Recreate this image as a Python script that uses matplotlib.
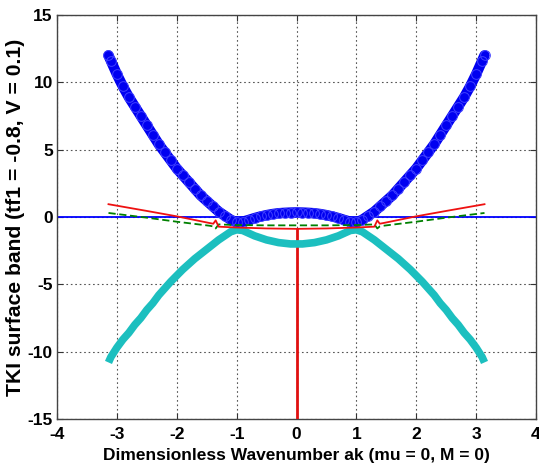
import matplotlib
matplotlib.use("Agg")
import matplotlib.pyplot as plt

# ---- data (left half, mirrored for the right half) ----
k_half = [-3.14, -3.1, -3.0, -2.9, -2.8, -2.7, -2.6, -2.5, -2.4, -2.3, -2.2, -2.1,
          -2.0, -1.9, -1.8, -1.7, -1.6, -1.5, -1.4, -1.3, -1.2, -1.1, -1.0, -0.9,
          -0.8, -0.7, -0.6, -0.5, -0.4, -0.3, -0.2, -0.1, 0.0]
upper_half = [12.0, 11.6, 10.6, 9.7, 8.9, 8.2, 7.5, 6.8, 6.1, 5.4, 4.8, 4.2,
              3.6, 3.1, 2.6, 2.1, 1.6, 1.2, 0.8, 0.4, 0.1, -0.2, -0.4, -0.35,
              -0.22, -0.08, 0.04, 0.14, 0.22, 0.28, 0.31, 0.33, 0.34]
lower_half = [-10.8, -10.4, -9.7, -9.1, -8.6, -8.0, -7.5, -6.9, -6.4, -5.8, -5.3, -4.8,
              -4.35, -3.9, -3.5, -3.1, -2.75, -2.4, -2.05, -1.7, -1.4, -1.1, -0.95, -1.0,
              -1.2, -1.4, -1.55, -1.7, -1.8, -1.9, -1.95, -2.0, -2.0]

k_band = k_half + [-v for v in k_half[-2::-1]]
upper_band = upper_half + upper_half[-2::-1]
lower_band = lower_half + lower_half[-2::-1]

k_red = [-3.14, -2.5, -2.0, -1.45, -1.39, -1.35, -1.3, -1.0, -0.5, 0.0,
         0.5, 1.0, 1.3, 1.35, 1.39, 1.45, 2.0, 2.5, 3.14]
red_vals = [0.95, 0.45, 0.05, -0.45, -0.5, -0.25, -0.72, -0.78, -0.85, -0.88,
            -0.85, -0.78, -0.72, -0.25, -0.5, -0.45, 0.05, 0.45, 0.95]

k_green = [-3.14, -2.5, -2.0, -1.45, -1.39, -1.35, -1.3, -1.0, -0.5, 0.0,
           0.5, 1.0, 1.3, 1.35, 1.39, 1.45, 2.0, 2.5, 3.14]
green_vals = [0.3, -0.05, -0.35, -0.65, -0.7, -0.85, -0.55, -0.6, -0.62, -0.62,
              -0.62, -0.6, -0.55, -0.85, -0.7, -0.65, -0.35, -0.05, 0.3]

zero_x = [-4, 4]
zero_y = [0, 0]
vert_x = [0, 0]
vert_y = [-15, -0.88]

xticks = [-4, -3, -2, -1, 0, 1, 2, 3, 4]
yticks = [-15, -10, -5, 0, 5, 10, 15]

plt.rcParams['font.family'] = ['Liberation Sans', 'DejaVu Sans']

fig = plt.figure(figsize=(5.39, 4.70), dpi=100)
ax = fig.add_axes([57/539, 1 - 419/470, (536-57)/539, (419-15)/470])

ax.plot(zero_x, zero_y, color='#0000ff', lw=1.3, zorder=2)
ax.plot(vert_x, vert_y, color='#e01010', lw=2.0, zorder=3)
ax.plot(k_band, lower_band, color='#1cbfbf', lw=5.5, solid_capstyle='butt', zorder=3)
ax.plot(k_band, upper_band, color='#0000f0', lw=7.5, solid_capstyle='round',
        marker='o', ms=7, mfc='none', mec='#4040ff', mew=0.7, zorder=4)
ax.plot(k_green, green_vals, color='#008000', lw=1.3, ls='--', dashes=(4, 2), zorder=5)
ax.plot(k_red, red_vals, color='#ee1111', lw=1.3, zorder=6)

ax.set_xlim(-4, 4)
ax.set_ylim(-15, 15)
ax.set_xticks(xticks)
ax.set_yticks(yticks)
ax.set_xticklabels([str(v) for v in xticks], fontsize=12.5, fontweight='bold')
ax.set_yticklabels([str(v) for v in yticks], fontsize=12.5, fontweight='bold')
ax.grid(True, color='#555555', ls=(0, (1.5, 2.5)), lw=0.8)
ax.tick_params(axis='x', pad=6)
ax.tick_params(direction='in', top=True, right=True, length=4, width=0.8,
               colors='#333333', labelcolor='black')
ax.tick_params(axis='y', pad=3)
for s in ax.spines.values():
    s.set_color('#444444')
    s.set_linewidth(1.0)

ax.set_xlabel('Dimensionless Wavenumber ak (mu = 0, M = 0)', fontsize=12.5,
              fontweight='bold', labelpad=4)
ax.set_ylabel('TKI surface band (tf1 = -0.8, V = 0.1)', fontsize=15.2,
              fontweight='bold', labelpad=2)

fig.savefig('out.png', dpi=100)
